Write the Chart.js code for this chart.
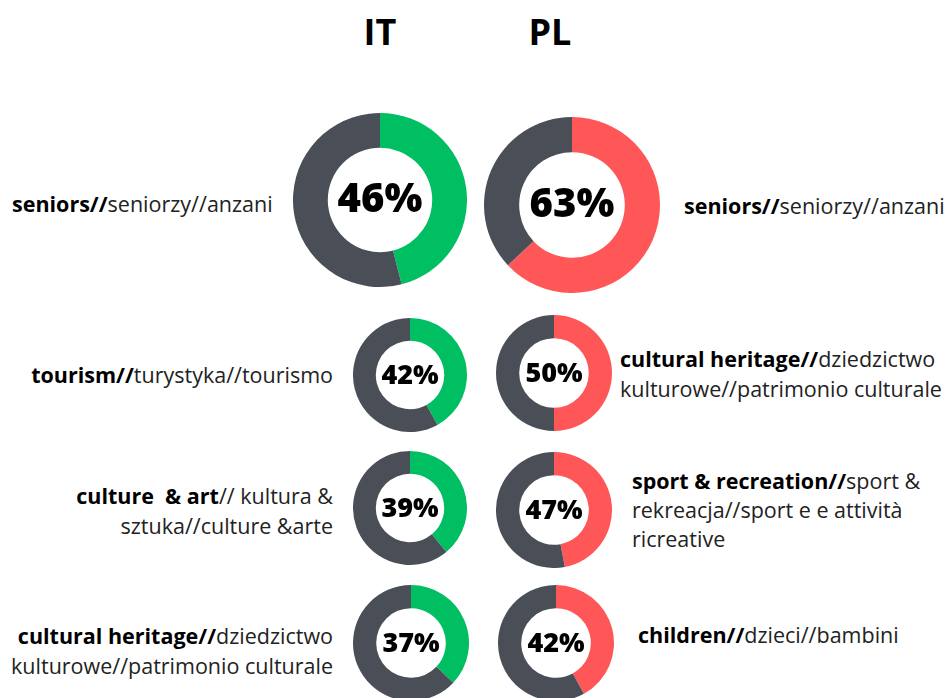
<!DOCTYPE html>
<html lang="en">
<head>
  <meta charset="UTF-8">
  <title>IT / PL doughnuts</title>
  <script src="https://cdn.jsdelivr.net/npm/chart.js"></script>
  <style>
    html, body {
      margin: 0;
      padding: 0;
      background: #fff;
    }
    #page {
      position: relative;
      width: 950px;
      height: 698px;
      overflow: hidden;
      font-family: "Open Sans", sans-serif;
      font-size: 21.5px;
      color: #222;
    }
    .title {
      position: absolute;
      top: 10px;
      width: 80px;
      margin-left: -40px;
      text-align: center;
      font-size: 36px;
      font-weight: 700;
      color: #000;
      line-height: 44px;
    }
    .label {
      position: absolute;
      line-height: 30px;
      white-space: nowrap;
    }
    .label b { color: #000; }
    .left { text-align: right; right: 617px; }
    .box { position: absolute; }
  </style>
</head>
<body>
<div id="page">
  <div class="title" style="left:380px">IT</div>
  <div class="title" style="left:550px">PL</div>
</div>

<script>
  // values (percent)
  const itCategories = ['seniors', 'tourism', 'culture & art', 'cultural heritage'];
  const itValues = [46, 42, 39, 37];
  const plCategories = ['seniors', 'cultural heritage', 'sport & recreation', 'children'];
  const plValues = [63, 50, 47, 42];

  const itLabels = [
    '<b>seniors//</b>seniorzy//anzani',
    '<b>tourism//</b>turystyka//tourismo',
    '<b>culture&nbsp; &amp; art</b>// kultura &amp;<br>sztuka//culture &amp;arte',
    '<b>cultural heritage//</b>dziedzictwo<br>kulturowe//patrimonio culturale'
  ];
  const plLabels = [
    '<b>seniors//</b>seniorzy//anzani',
    '<b>cultural heritage//</b>dziedzictwo<br>kulturowe//patrimonio culturale',
    '<b>sport &amp; recreation//</b>sport &amp;<br>rekreacja//sport e e attività<br>ricreative',
    '<b>children//</b>dzieci//bambini'
  ];

  const GREY = '#4a4f57';
  const GREEN = '#00bf63';
  const RED = '#ff5757';

  // layout: doughnut centres / radii / centre font size, and label spots
  const itPos = [[380, 200, 87, 40], [410, 375, 57, 27], [410, 508, 57, 27], [411, 643, 58, 27]];
  const plPos = [[572, 205, 88, 40], [554, 373, 58, 27], [554, 510, 58, 27], [556, 643, 58, 27]];
  const itLabelPos = ['left:12px;top:189px', 'top:360px', 'top:481px', 'top:621px'];
  const plLabelPos = ['left:684px;top:191px', 'left:620px;top:344px', 'left:632px;top:466px;line-height:29px', 'left:638px;top:620px'];

  const centerText = {
    id: 'centerText',
    afterDraw(chart, args, opts) {
      const arc = chart.getDatasetMeta(0).data[0];
      const ctx = chart.ctx;
      ctx.save();
      ctx.font = '800 ' + opts.size + 'px "Open Sans"';
      ctx.fillStyle = '#000';
      ctx.textAlign = 'center';
      ctx.textBaseline = 'middle';
      ctx.fillText(chart.data.datasets[0].data[0] + '%', arc.x, arc.y + 1);
      ctx.restore();
    }
  };

  const page = document.getElementById('page');

  function addDonut(value, pos, color) {
    const [cx, cy, r, fs] = pos;
    const box = document.createElement('div');
    box.className = 'box';
    box.style.left = (cx - r) + 'px';
    box.style.top = (cy - r) + 'px';
    box.style.width = (2 * r) + 'px';
    box.style.height = (2 * r) + 'px';
    const cv = document.createElement('canvas');
    box.appendChild(cv);
    page.appendChild(box);
    new Chart(cv, {
      type: 'doughnut',
      data: {
        labels: ['yes', 'rest'],
        datasets: [{
          data: [value, 100 - value],
          backgroundColor: [color, GREY],
          borderWidth: 0
        }]
      },
      options: {
        responsive: true,
        maintainAspectRatio: false,
        animation: false,
        cutout: '60%',
        layout: { padding: 0 },
        plugins: {
          legend: { display: false },
          tooltip: { enabled: false },
          centerText: { size: fs }
        }
      },
      plugins: [centerText]
    });
  }

  function addLabel(html, style, left) {
    const d = document.createElement('div');
    d.className = 'label' + (left ? ' left' : '');
    d.style.cssText = style;
    d.innerHTML = html;
    page.appendChild(d);
  }

  itValues.forEach((v, i) => {
    addDonut(v, itPos[i], GREEN);
    addLabel(itLabels[i], itLabelPos[i], i > 0);
  });
  plValues.forEach((v, i) => {
    addDonut(v, plPos[i], RED);
    addLabel(plLabels[i], plLabelPos[i], false);
  });
</script>
</body>
</html>
